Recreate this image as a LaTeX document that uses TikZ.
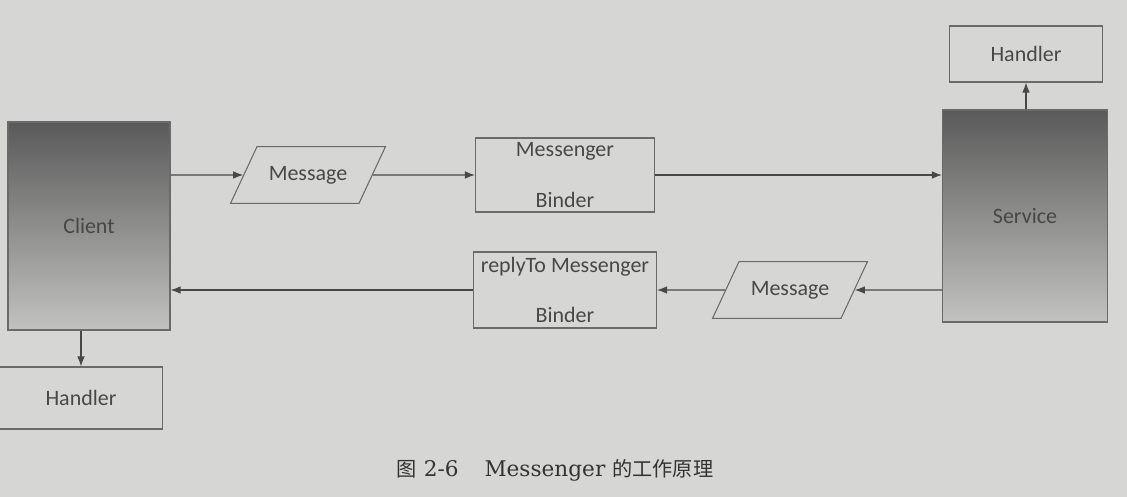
\documentclass[tikz,border=0pt]{standalone}
\usepackage{fontspec}
\setmainfont{Carlito}
\newfontfamily\capfont{DejaVu Serif}
\newfontfamily\cjk{Noto Sans CJK SC}
\usetikzlibrary{arrows.meta, positioning, shapes.geometric}
\definecolor{paper}{HTML}{D6D6D4}
\definecolor{edge}{HTML}{6A6A6A}
\definecolor{ink}{HTML}{484848}
\definecolor{shadetop}{HTML}{5A5A5A}
\definecolor{shadebot}{HTML}{C2C2C0}
\tikzset{
  box/.style={draw=edge, line width=0.6pt, fill=paper, text=ink, inner sep=0pt,
    font=\fontsize{12.5}{15}\selectfont, align=center},
  unit/.style={box, top color=shadetop, bottom color=shadebot, text=black!72},
  msg/.style={box, trapezium, trapezium left angle=65, trapezium right angle=115,
    trapezium stretches body, inner ysep=0.39cm, minimum width=3.1cm},
  flow/.style={-{Latex[length=2mm]}, draw=ink, line width=0.6pt}
}

\begin{document}
\begin{tikzpicture}[x=0.02cm, y=-0.02cm]
                \useasboundingbox (0,0) rectangle (1127,497);
                \fill[paper] (0,0) rectangle (1127,497);

                \node[unit, minimum width=3.24cm, minimum height=4.16cm] (client) at (89,226) {Client};
                \node[box, minimum width=3.26cm, minimum height=1.24cm] (handlerC) at (81,398) {Handler};
                \node[msg] (msgA) at (308,175) {Message};
                \node[box, minimum width=3.58cm, minimum height=1.48cm] (binderA) at (565,175) {Messenger\\[13.5pt]Binder};
                \node[box, minimum width=3.66cm, minimum height=1.52cm] (binderB) at (565,290) {replyTo Messenger\\[13.5pt]Binder};
                \node[msg] (msgB) at (790,290) {Message};
                \node[unit, minimum width=3.3cm, minimum height=4.24cm] (service) at (1025,216) {Service};
                \node[box, minimum width=3.06cm, minimum height=1.12cm] (handlerS) at (1026,54) {Handler};
                \node[font=\capfont\fontsize{12.3}{14}\selectfont, text=black!80] (caption) at (555,470)
                    {{\cjk\fontsize{11.5}{14}\selectfont 图}~2-6\hspace{1.2em}Messenger~{\cjk\fontsize{11.5}{14}\selectfont 的工作原理}};

                \draw[flow] (msgA -| client.east) -- (msgA);
                \draw[flow] (msgA) -- (binderA);
                \draw[flow] (binderA) -- (binderA -| service.west);
                \draw[flow] (msgB -| service.west) -- (msgB);
                \draw[flow] (msgB) -- (binderB);
                \draw[flow] (binderB) -- (binderB -| client.east);
                \draw[flow] (handlerC |- client.south) -- (handlerC);
                \draw[flow] (service.north -| handlerS) -- (handlerS);
            \end{tikzpicture}
\end{document}
